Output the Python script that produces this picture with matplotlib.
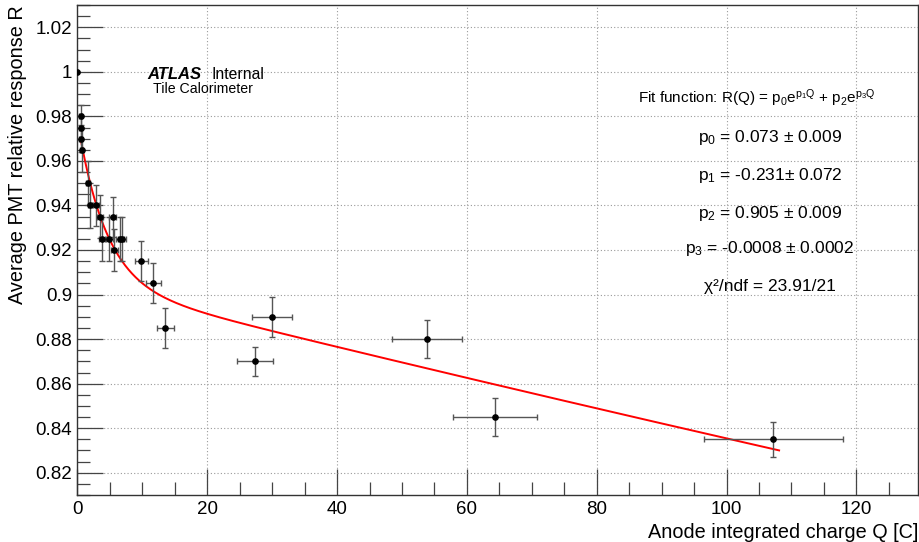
import numpy as np
import matplotlib
matplotlib.use("Agg")
import matplotlib.pyplot as plt
from matplotlib.ticker import MultipleLocator

plt.rcParams['font.family'] = ['Liberation Sans', 'DejaVu Sans']
plt.rcParams['mathtext.fontset'] = 'custom'
plt.rcParams['mathtext.rm'] = 'Liberation Sans'
plt.rcParams['mathtext.it'] = 'Liberation Sans:italic'
plt.rcParams['mathtext.bf'] = 'Liberation Sans:bold'

# ---- data ----
Q = [0.0, 0.5, 0.5, 0.5, 0.65, 1.57, 1.93, 2.85, 3.47, 3.83, 4.9, 5.4, 5.67,
     6.55, 6.9, 9.8, 11.7, 13.5, 27.35, 30.0, 53.9, 64.3, 107.2]
R = [1.000, 0.980, 0.975, 0.970, 0.965, 0.950, 0.940, 0.940, 0.935, 0.925,
     0.925, 0.935, 0.920, 0.925, 0.925, 0.915, 0.905, 0.885, 0.870, 0.890,
     0.880, 0.845, 0.835]
Q_err = [0.0, 0.2, 0.2, 0.2, 0.25, 0.3, 0.3, 0.4, 0.4, 0.45, 0.5, 0.5, 0.5,
         0.6, 0.6, 1.0, 1.15, 1.3, 2.8, 3.1, 5.4, 6.5, 10.7]
R_err = [0.0, 0.005, 0.005, 0.006, 0.01, 0.01, 0.01, 0.009, 0.0095, 0.01,
         0.01, 0.009, 0.0095, 0.01, 0.01, 0.009, 0.009, 0.009, 0.0065, 0.009,
         0.0085, 0.0085, 0.008]

# fit parameters
p0, p1, p2, p3 = 0.073, -0.231, 0.905, -0.0008
fit_range = (0.5, 108.1)

x_ticks = [0, 20, 40, 60, 80, 100, 120]
y_ticks = [0.82, 0.84, 0.86, 0.88, 0.90, 0.92, 0.94, 0.96, 0.98, 1.00, 1.02]
y_ticklabels = ["0.82", "0.84", "0.86", "0.88", "0.9", "0.92", "0.94", "0.96",
                "0.98", "1", "1.02"]

W, H = 920, 542
fig = plt.figure(figsize=(W / 100, H / 100), dpi=100)
L, Rt, T, B = 77.5, 918, 5, 495
ax = fig.add_axes([L / W, 1 - B / H, (Rt - L) / W, (B - T) / H])

def fx(px):
    return px / W

def fy(py):
    return 1 - py / H

ax.set_xlim(0, 129.5)
ax.set_ylim(0.81, 1.03)

ax.grid(True, which='major', color='#9a9a9a', linestyle=(0, (1, 2)), linewidth=0.8)
ax.set_axisbelow(True)

# fit curve
qq = np.linspace(fit_range[0], fit_range[1], 600)
ax.plot(qq, p0 * np.exp(p1 * qq) + p2 * np.exp(p3 * qq), color='#ff0000', lw=1.4, zorder=3)

ax.errorbar(Q, R, xerr=Q_err, yerr=R_err, fmt='o', color='black', ms=3.8,
            ecolor='#555555', elinewidth=1.0, capsize=2.2, capthick=1.0, zorder=4)

ax.set_xticks(x_ticks)
ax.set_yticks(y_ticks)
ax.set_yticklabels(y_ticklabels)
ax.xaxis.set_minor_locator(MultipleLocator(5))
ax.yaxis.set_minor_locator(MultipleLocator(0.005))
ax.tick_params(which='major', direction='in', length=19, width=0.9, color='#444444',
               labelsize=13.5, pad=4)
ax.tick_params(which='minor', direction='in', length=9.5, width=0.9, color='#444444')
ax.tick_params(top=False, right=False, which='both')
for s in ax.spines.values():
    s.set_color('#333333')
    s.set_linewidth(1.0)

ax.set_xlabel("Anode integrated charge Q [C]", fontsize=14.3, loc='right', labelpad=4)
ax.set_ylabel("Average PMT relative response R", fontsize=14.3, loc='top', labelpad=6)

# ATLAS label
fig.text(fx(147), fy(79), "ATLAS", fontsize=12, fontweight='bold', fontstyle='italic', va='baseline')
fig.text(fx(212), fy(79), "Internal", fontsize=11.3, va='baseline')
fig.text(fx(153), fy(93), "Tile Calorimeter", fontsize=10.2, va='baseline')

# fit box
fig.text(fx(757), fy(103),
         r"Fit function: R(Q) = p$_0$e$^{\mathregular{p_1Q}}$ + p$_2$e$^{\mathregular{p_3Q}}$",
         fontsize=11, ha='center', va='baseline')
lines = [(r"p$_0$ = 0.073 $\pm$ 0.009", 141.5),
         (r"p$_1$ = -0.231$\pm$ 0.072", 180),
         (r"p$_2$ = 0.905 $\pm$ 0.009", 218),
         (r"p$_3$ = -0.0008 $\pm$ 0.0002", 253),
         ("χ²/ndf = 23.91/21", 291.5)]
for txt, yy in lines:
    fig.text(fx(770), fy(yy), txt, fontsize=12.5, ha='center', va='baseline')

fig.savefig("out.png", dpi=100, facecolor='white')
